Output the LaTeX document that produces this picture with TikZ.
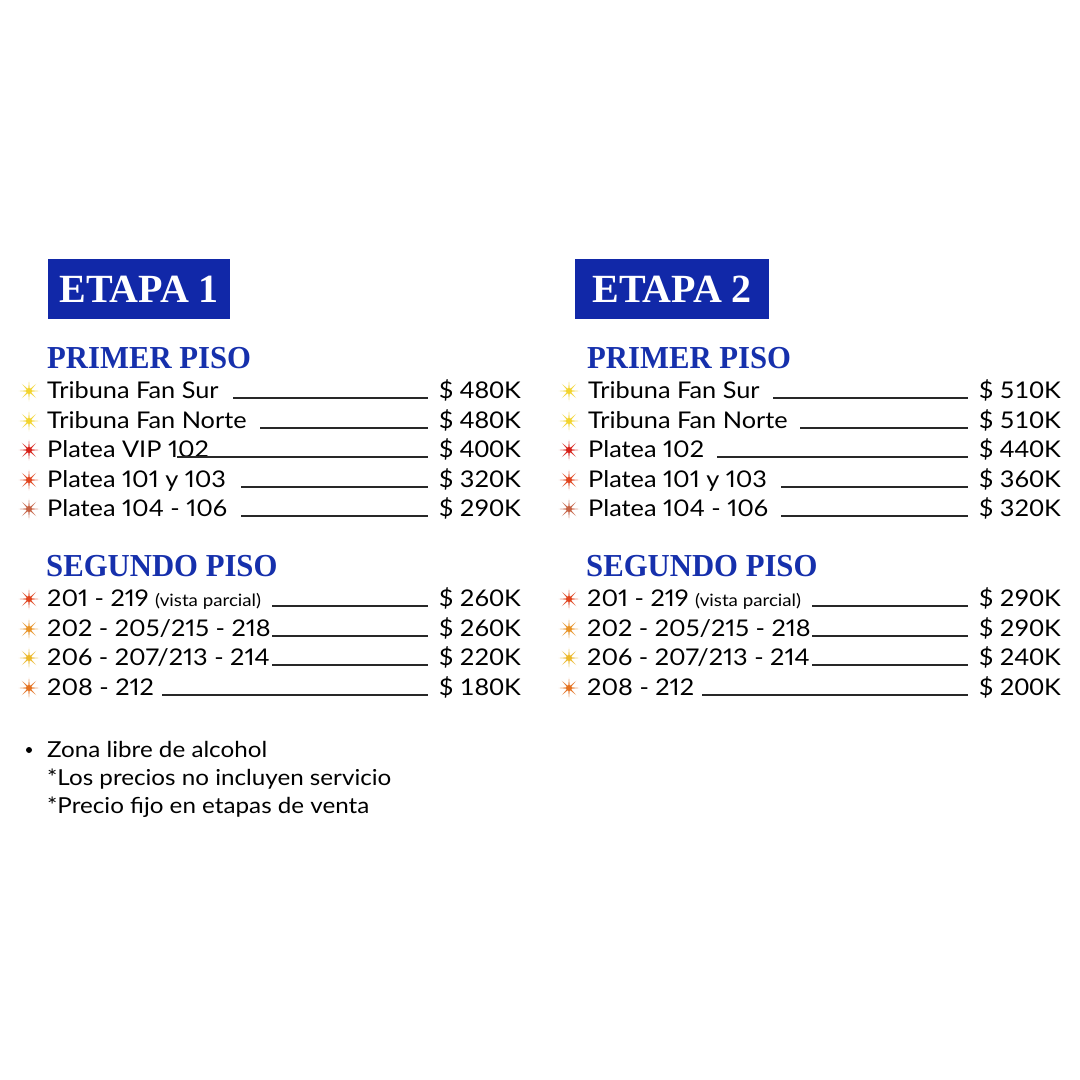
\documentclass[tikz,border=0pt]{standalone}
\usepackage{fontspec}
\setmainfont{Lato}[FakeStretch=1.1, Numbers=Proportional]
\newfontfamily\titulo{Liberation Serif}
\newfontfamily\tituloangosto{Liberation Serif}[FakeStretch=0.96]
\usetikzlibrary{positioning}

\definecolor{azul}{RGB}{17,40,168}
\definecolor{azulpiso}{RGB}{22,48,172}
\definecolor{amarillo}{RGB}{242,212,44}
\definecolor{rojo}{RGB}{214,30,22}
\definecolor{rojonaranja}{RGB}{224,66,28}
\definecolor{marron}{RGB}{196,96,66}
\definecolor{naranja}{RGB}{232,146,36}
\definecolor{dorado}{RGB}{236,184,40}
\definecolor{naranjo}{RGB}{228,112,30}
\definecolor{guiagris}{RGB}{40,40,40}

\tikzset{
  etapa/.style={fill=azul, text=white, anchor=north west, inner sep=0pt,
    minimum height=60pt, font=\titulo\bfseries\fontsize{40}{44}\selectfont},
  piso/.style={anchor=base west, inner sep=0pt, text=azulpiso,
    font=\tituloangosto\bfseries\fontsize{32}{36}\selectfont},
  fila/.style={anchor=base west, inner sep=0pt, font=\fontsize{23}{28}\selectfont},
  precio/.style={anchor=base east, inner sep=0pt,
    font=\fontsize{23}{28}\selectfont\addfontfeatures{Numbers=Monospaced}},
  nota/.style={anchor=base west, inner sep=0pt, font=\fontsize{22}{26}\selectfont},
  guia/.style={line width=1.2pt, guiagris},
  estrella/.pic={
    \foreach \a in {0,45,...,315}
      \fill[opacity=0.35] (\a+20:2.6pt) -- (\a:10.5pt) -- (\a-20:2.6pt) -- cycle;
    \foreach \a in {0,45,...,315}
      \fill (\a+16:1.8pt) -- (\a:9pt) -- (\a-16:1.8pt) -- cycle;
    \fill (0,0) circle (3pt);
  }
}

\begin{document}
\begin{tikzpicture}[x=1pt,y=-1pt]
  \useasboundingbox[fill=white] (0,0) rectangle (1080,1080);
  % titulos
  \node[etapa, minimum width=182pt] (etapa1) at (48,259) {ETAPA 1};
  \node[etapa, minimum width=194pt] (etapa2) at (575,259) {ETAPA 2};
  \node[piso] (primer1) at (47,368) {PRIMER PISO};
  \node[piso] (primer2) at (587,368) {PRIMER PISO};
  \node[piso] (segundo1) at (46,576) {SEGUNDO PISO};
  \node[piso] (segundo2) at (586,576) {SEGUNDO PISO};
  % primer piso
  \foreach \y/\c/\izq/\der/\ini/\pa/\pb [count=\i] in {
      398/amarillo/Tribuna Fan Sur/Tribuna Fan Sur/233/480K/510K,
      428/amarillo/Tribuna Fan Norte/Tribuna Fan Norte/260/480K/510K,
      457/rojo/Platea VIP 102/Platea 102/177/400K/440K,
      487/rojonaranja/Platea 101 y 103/Platea 101 y 103/241/320K/360K,
      516/marron/Platea 104 - 106/Platea 104 - 106/241/290K/320K}{
    \pic[\c] at (29,\y-7) {estrella};
    \pic[\c] at (569,\y-7) {estrella};
    \node[fila] (fa\i) at (47,\y) {\izq};
    \node[fila] (fb\i) at (588,\y) {\der};
    \node[precio] (pa\i) at (521,\y) {\$ \pa};
    \node[precio] (pb\i) at (1061,\y) {\$ \pb};
    \draw[guia] (\ini,\y) -- (428,\y);
    \draw[guia] (\ini+540,\y) -- (968,\y);
  }
  % segundo piso
  \foreach \y/\c/\txt/\ini/\pa/\pb [count=\i] in {
      606/rojonaranja/{201 - 219 {\fontsize{17}{20}\selectfont(vista parcial)}}/272/260K/290K,
      636/naranja/{202 - 205/215 - 218}/272/260K/290K,
      665/dorado/{206 - 207/213 - 214}/272/220K/240K,
      695/naranjo/{208 - 212}/162/180K/200K}{
    \pic[\c] at (29,\y-7) {estrella};
    \pic[\c] at (569,\y-7) {estrella};
    \node[fila] (sa\i) at (47,\y) {\txt};
    \node[fila] (sb\i) at (587,\y) {\txt};
    \node[precio] (qa\i) at (521,\y) {\$ \pa};
    \node[precio] (qb\i) at (1061,\y) {\$ \pb};
    \draw[guia] (\ini,\y) -- (428,\y);
    \draw[guia] (\ini+540,\y) -- (968,\y);
  }
  % notas
  \fill (29,750) circle (3pt);
  \node[nota] (nota1) at (47,757) {Zona libre de alcohol};
  \node[nota] (nota2) at (47,785) {*Los precios no incluyen servicio};
  \node[nota] (nota3) at (47,813) {*Precio fijo en etapas de venta};
\end{tikzpicture}
\end{document}
